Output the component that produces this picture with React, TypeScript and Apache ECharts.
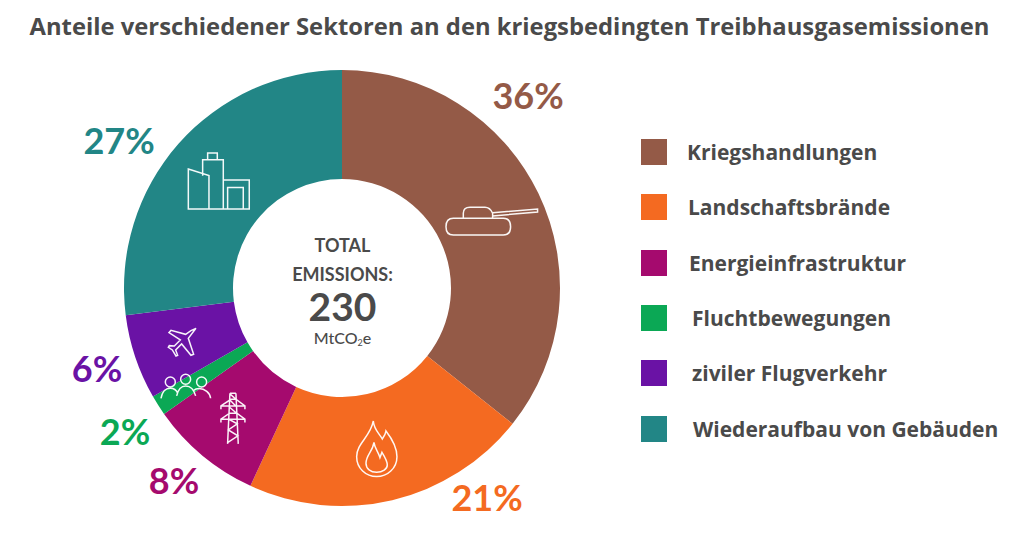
import React, { useEffect, useRef } from "react";
import * as echarts from "echarts";

const titleText = "Anteile verschiedener Sektoren an den kriegsbedingten Treibhausgasemissionen";
const categories = ["Kriegshandlungen", "Landschaftsbrände", "Energieinfrastruktur", "Fluchtbewegungen", "ziviler Flugverkehr", "Wiederaufbau von Gebäuden"];
const arcShares = [35.7, 21.2, 8.3, 1.5, 6.3, 27];
const percentLabels = ["36%", "21%", "8%", "2%", "6%", "27%"];
const colors = ["#945A47", "#F46A21", "#A50A6E", "#0BA855", "#6A12A5", "#228686"];
const labelPositions = [[528, 95], [487, 497], [174, 480], [125, 431], [97, 368], [119, 140]];
const legendTops = [139, 194, 250, 305, 360, 416];
const legendTextGaps = [15, 16, 17, 20, 20, 21];
const legendTextLifts = [2, 0, 2, 14, 14, 8];
const textColor = "#4A4A4A";

const icons: Record<string, { d: string; x: number; y: number }> = {
  iconBuilding: {
    x: 180, y: 145,
    d: "M25,72 L87,92 V192 H25 Z M68,92 V44 H130 V192 M83,44 V24 H112 V44 M130,105 H208 V192 H25 M143,192 V128 H190 V192",
  },
  iconPlane: {
    x: 155, y: 320,
    d: "M123,25 L100,55 L116,103 L108,106 L80,72 L62,90 L68,106 L63,108 L52,90 L40,82 L43,77 L58,78 L76,60 L42,38 L48,31 L92,43 L108,32 Z",
  },
  iconPeople: {
    x: 155, y: 320,
    d: "M61,186 A15,15 0 1 1 31,186 A15,15 0 1 1 61,186 Z M107,178 A15,15 0 1 1 77,178 A15,15 0 1 1 107,178 Z M155,186 A15,15 0 1 1 125,186 A15,15 0 1 1 155,186 Z M18,235 C22,212 36,205 46,205 C56,205 64,210 68,220 M65,228 C70,205 80,198 92,198 C104,198 116,205 122,228 M115,212 C120,208 125,206 132,206 C150,206 165,218 167,235",
  },
  iconPylon: {
    x: 155, y: 320,
    d: "M225,220 L218,372 M243,220 L250,372 M225,220 H243 M198,268 V258 L228,238 H243 L270,258 V268 M198,258 H270 M198,308 V298 L224,280 H246 L270,298 V308 M198,298 H270 M225,222 L243,238 M225,240 L244,260 M224,262 L245,280 M222,298 L247,312 L220,330 L249,348 L218,368",
  },
  iconTank: {
    x: 440, y: 200,
    d: "M40,55 H190 Q212,55 212,80 Q212,105 190,105 H40 Q18,105 18,80 Q18,55 40,55 Z M70,55 V40 Q70,22 90,22 H135 Q150,22 158,40 V55 M158,38 L293,27 V36 L158,48",
  },
  iconFlame: {
    x: 350, y: 415,
    d: "M70,18 C72,45 88,55 97,72 C102,65 107,58 108,48 C125,70 141,95 141,125 C141,160 112,185 80,185 C48,185 20,160 20,125 C20,85 62,65 70,18 Z M72,82 C74,100 84,108 90,128 L96,112 C106,128 112,140 112,150 C112,162 98,172 80,172 C62,172 48,162 48,145 C48,120 68,110 72,82 Z",
  },
};

Object.keys(icons).forEach((k) => {
  echarts.graphic.registerShape(k, echarts.graphic.extendPath(icons[k].d, {}) as any);
});

export default function App() {
  const ref = useRef<HTMLDivElement>(null);
  useEffect(() => {
    document.body.style.margin = "0";
    const chart = echarts.init(ref.current!, undefined, { renderer: "svg" });
    const lato = "Lato";
    const centerText = (text: string, y: number, size: number, weight: number | string) => ({
      type: "text", x: 342.5, y, z: 10,
      style: { text, fontFamily: lato, fontSize: size, fontWeight: weight, fill: textColor, align: "center", verticalAlign: "middle" },
    });
    chart.setOption({
      animation: false,
      backgroundColor: "#ffffff",
      color: colors,
      title: {
        text: titleText, left: 504.5, top: 9, textAlign: "center",
        textStyle: { fontFamily: "Open Sans", fontSize: 23.8, fontWeight: 700, color: textColor },
      },
      legend: categories.map((name, i) => ({
        data: [name], left: 641, top: legendTops[i], orient: "vertical", icon: "rect",
        itemWidth: 26, itemHeight: 26, padding: 0, selectedMode: false,
        textStyle: { fontFamily: "Open Sans", fontSize: 21, fontWeight: 700, color: textColor, padding: [0, 0, legendTextLifts[i], legendTextGaps[i]] },
      })),
      series: [{
        type: "pie", center: [342, 288], radius: [109, 218], startAngle: 90, clockwise: true,
        avoidLabelOverlap: false,
        data: categories.map((name, i) => ({
          name, value: arcShares[i],
          itemStyle: { color: colors[i] },
          label: { color: colors[i] },
        })),
        label: {
          show: true, position: "outside",
          formatter: (p: any) => percentLabels[p.dataIndex],
          fontFamily: lato, fontSize: 36, fontWeight: 700,
        },
        labelLine: { show: false },
        labelLayout: (p: any) => ({
          x: labelPositions[p.dataIndex][0], y: labelPositions[p.dataIndex][1],
          align: "center", verticalAlign: "middle",
        }),
      }],
      graphic: [
        centerText("TOTAL", 245, 18, 700),
        centerText("EMISSIONS:", 274, 18, 700),
        centerText("230", 306, 39, 700),
        {
          type: "text", x: 342.5, y: 337, z: 10,
          style: {
            text: "{a|MtCO}{b|2}{a|e}", align: "center", verticalAlign: "middle",
            rich: {
              a: { fontFamily: lato, fontSize: 16, fill: textColor, fontWeight: 500, lineHeight: 20 },
              b: { fontFamily: lato, fontSize: 9, fill: textColor, verticalAlign: "bottom" },
            },
          },
        },
        ...Object.keys(icons).map((k) => ({
          type: k, x: icons[k].x, y: icons[k].y, scaleX: 1 / 3, scaleY: 1 / 3, silent: true, z: 10,
          style: { fill: "none", stroke: "#ffffff", lineWidth: 4.5, opacity: 0.95 },
        })),
      ],
    });
    return () => chart.dispose();
  }, []);
  return <div ref={ref} style={{ width: 1024, height: 540 }} />;
}
